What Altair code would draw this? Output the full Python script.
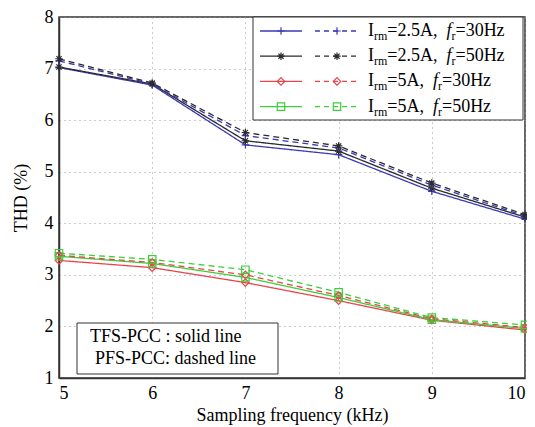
import altair as alt
import pandas as pd

# ---------------- data ----------------
freq_khz = [5, 6, 7, 8, 9, 10]

tfs_25a_30hz = [7.02, 6.68, 5.52, 5.33, 4.62, 4.08]
tfs_25a_50hz = [7.03, 6.70, 5.60, 5.40, 4.68, 4.12]
pfs_25a_30hz = [7.15, 6.70, 5.70, 5.46, 4.74, 4.14]
pfs_25a_50hz = [7.19, 6.72, 5.76, 5.50, 4.78, 4.17]
tfs_5a_30hz = [3.28, 3.14, 2.85, 2.50, 2.12, 1.93]
tfs_5a_50hz = [3.36, 3.22, 2.95, 2.56, 2.13, 1.96]
pfs_5a_30hz = [3.38, 3.24, 3.00, 2.60, 2.15, 1.98]
pfs_5a_50hz = [3.42, 3.30, 3.10, 2.66, 2.17, 2.03]

series_keys = ["2.5A-50Hz", "2.5A-30Hz", "5A-30Hz", "5A-50Hz"]
methods = ["TFS-PCC", "PFS-PCC"]
current_labels = {"2.5A-30Hz": "=2.5A,  ", "2.5A-50Hz": "=2.5A,  ", "5A-30Hz": "=5A,  ", "5A-50Hz": "=5A,  "}
freq_labels = {"2.5A-30Hz": "=30Hz", "2.5A-50Hz": "=50Hz", "5A-30Hz": "=30Hz", "5A-50Hz": "=50Hz"}
legend_order = ["2.5A-30Hz", "2.5A-50Hz", "5A-30Hz", "5A-50Hz"]
x_tick_values = [5, 5.5, 6, 6.5, 7, 7.5, 8, 8.5, 9, 9.5, 10]
y_tick_values = [1, 2, 3, 4, 5, 6, 7, 8]

values = {
    ("2.5A-30Hz", "TFS-PCC"): tfs_25a_30hz,
    ("2.5A-50Hz", "TFS-PCC"): tfs_25a_50hz,
    ("2.5A-30Hz", "PFS-PCC"): pfs_25a_30hz,
    ("2.5A-50Hz", "PFS-PCC"): pfs_25a_50hz,
    ("5A-30Hz", "TFS-PCC"): tfs_5a_30hz,
    ("5A-50Hz", "TFS-PCC"): tfs_5a_50hz,
    ("5A-30Hz", "PFS-PCC"): pfs_5a_30hz,
    ("5A-50Hz", "PFS-PCC"): pfs_5a_50hz,
}

# ---------------- styles ----------------
colors = {"2.5A-30Hz": "#3a3ab8", "2.5A-50Hz": "#2a2a2a", "5A-30Hz": "#e8454a", "5A-50Hz": "#3ccf3c"}
PLUS = "M-1,0L1,0M0,-1L0,1"
STAR = "M-1,0L1,0M0,-1L0,1M-0.7,-0.7L0.7,0.7M-0.7,0.7L0.7,-0.7"
shapes = {"2.5A-30Hz": PLUS, "2.5A-50Hz": STAR, "5A-30Hz": "diamond", "5A-50Hz": "square"}
dashes = {"TFS-PCC": [1, 0], "PFS-PCC": [6, 4]}
FONT = "Liberation Serif"

rows = []
for (s, m), ys in values.items():
    for xv, yv in zip(freq_khz, ys):
        rows.append({"series": s, "method": m, "freq": xv, "thd": yv})
df = pd.DataFrame(rows)

W, H = 466, 361

x_enc = alt.X("freq:Q", scale=alt.Scale(domain=[5, 10], nice=False),
              axis=alt.Axis(values=x_tick_values, format="d",
                            labelExpr="datum.value % 1 == 0 ? datum.label : ''",
                            title="Sampling frequency (kHz)"))
y_enc = alt.Y("thd:Q", scale=alt.Scale(domain=[1, 8], nice=False),
              axis=alt.Axis(values=y_tick_values, format="d", title="THD (%)"))
color_enc = alt.Color("series:N", scale=alt.Scale(domain=series_keys, range=[colors[k] for k in series_keys]), legend=None)
dash_enc = alt.StrokeDash("method:N", scale=alt.Scale(domain=methods, range=[dashes[m] for m in methods]), legend=None)
shape_enc = alt.Shape("series:N", scale=alt.Scale(domain=series_keys, range=[shapes[k] for k in series_keys]), legend=None)

lines = alt.Chart(df).mark_line(strokeWidth=1.3).encode(
    x=x_enc, y=y_enc, color=color_enc, strokeDash=dash_enc, detail="method:N")
points = alt.Chart(df).mark_point(filled=False, size=55, strokeWidth=1.2, opacity=1).encode(
    x="freq:Q", y="thd:Q", color=color_enc, shape=shape_enc)

layers = [lines, points]

# ---------------- custom legend ----------------
TW = {"I": .333, "r": .333, "m": .778, "=": .564, "2": .5, ".": .25, "5": .5, "A": .722, ",": .25,
      " ": .25, "f": .278, "3": .5, "0": .5, "H": .722, "z": .444}


def tw(s, size):
    return sum(TW.get(c, .5) for c in s) * size


one = pd.DataFrame({"a": [0]})
layers.append(alt.Chart(one).mark_rect(fill="white", stroke="#333", strokeWidth=1).encode(
    x=alt.value(194), x2=alt.value(464), y=alt.value(0), y2=alt.value(103)))

FS, SS = 18, 12
for i, key in enumerate(legend_order):
    yy = 14 + 25.2 * i
    c = colors[key]
    layers.append(alt.Chart(one).mark_rule(color=c, strokeWidth=1.3).encode(
        x=alt.value(201), x2=alt.value(243), y=alt.value(yy)))
    layers.append(alt.Chart(one).mark_rule(color=c, strokeWidth=1.3, strokeDash=[5, 4]).encode(
        x=alt.value(256), x2=alt.value(299), y=alt.value(yy)))
    for mx in (222, 278):
        layers.append(alt.Chart(one).mark_point(shape=shapes[key], filled=False, size=55, strokeWidth=1.2,
                                                color=c, opacity=1).encode(x=alt.value(mx), y=alt.value(yy)))
    segs = [("I", FS, "normal", 0), ("rm", SS, "normal", 5), (current_labels[key], FS, "normal", 0),
            ("f", FS, "italic", 0), ("r", SS, "normal", 5), (freq_labels[key], FS, "normal", 0)]
    px = 309
    for txt, size, style, dy in segs:
        layers.append(alt.Chart(pd.DataFrame({"t": [txt]})).mark_text(
            font=FONT, fontSize=size, fontStyle=style, align="left", baseline="middle", color="black").encode(
            text="t:N", x=alt.value(px), y=alt.value(yy + dy)))
        px += tw(txt, size)

# ---------------- method note box ----------------
note_lines = ["TFS-PCC : solid line", "PFS-PCC: dashed line"]
layers.append(alt.Chart(one).mark_rect(fill="white", stroke="#333", strokeWidth=1).encode(
    x=alt.value(18), x2=alt.value(219), y=alt.value(306), y2=alt.value(357)))
for j, (txt, lx) in enumerate(zip(note_lines, [31, 36])):
    layers.append(alt.Chart(pd.DataFrame({"t": [txt]})).mark_text(
        font=FONT, fontSize=18, align="left", baseline="middle", color="black").encode(
        text="t:N", x=alt.value(lx), y=alt.value(320 + 22 * j)))

chart = alt.layer(*layers).properties(
    width=W, height=H,
    autosize=alt.AutoSizeParams(type="none"),
    padding={"left": 51, "top": 9, "right": 2, "bottom": 47},
).configure_view(stroke="#333", strokeWidth=1.5).configure_axis(
    labelFont=FONT, titleFont=FONT, labelFontSize=18, titleFontSize=18, titleFontWeight="normal",
    labelColor="black", titleColor="black", ticks=False, domainColor="#333", domainWidth=1.5,
    gridColor="#999", gridDash=[1, 4], gridWidth=1, labelPadding=6,
).configure_axisX(titlePadding=4).configure_axisY(titlePadding=14)

chart.save("out.html", embed_options={"renderer": "svg", "actions": False})
